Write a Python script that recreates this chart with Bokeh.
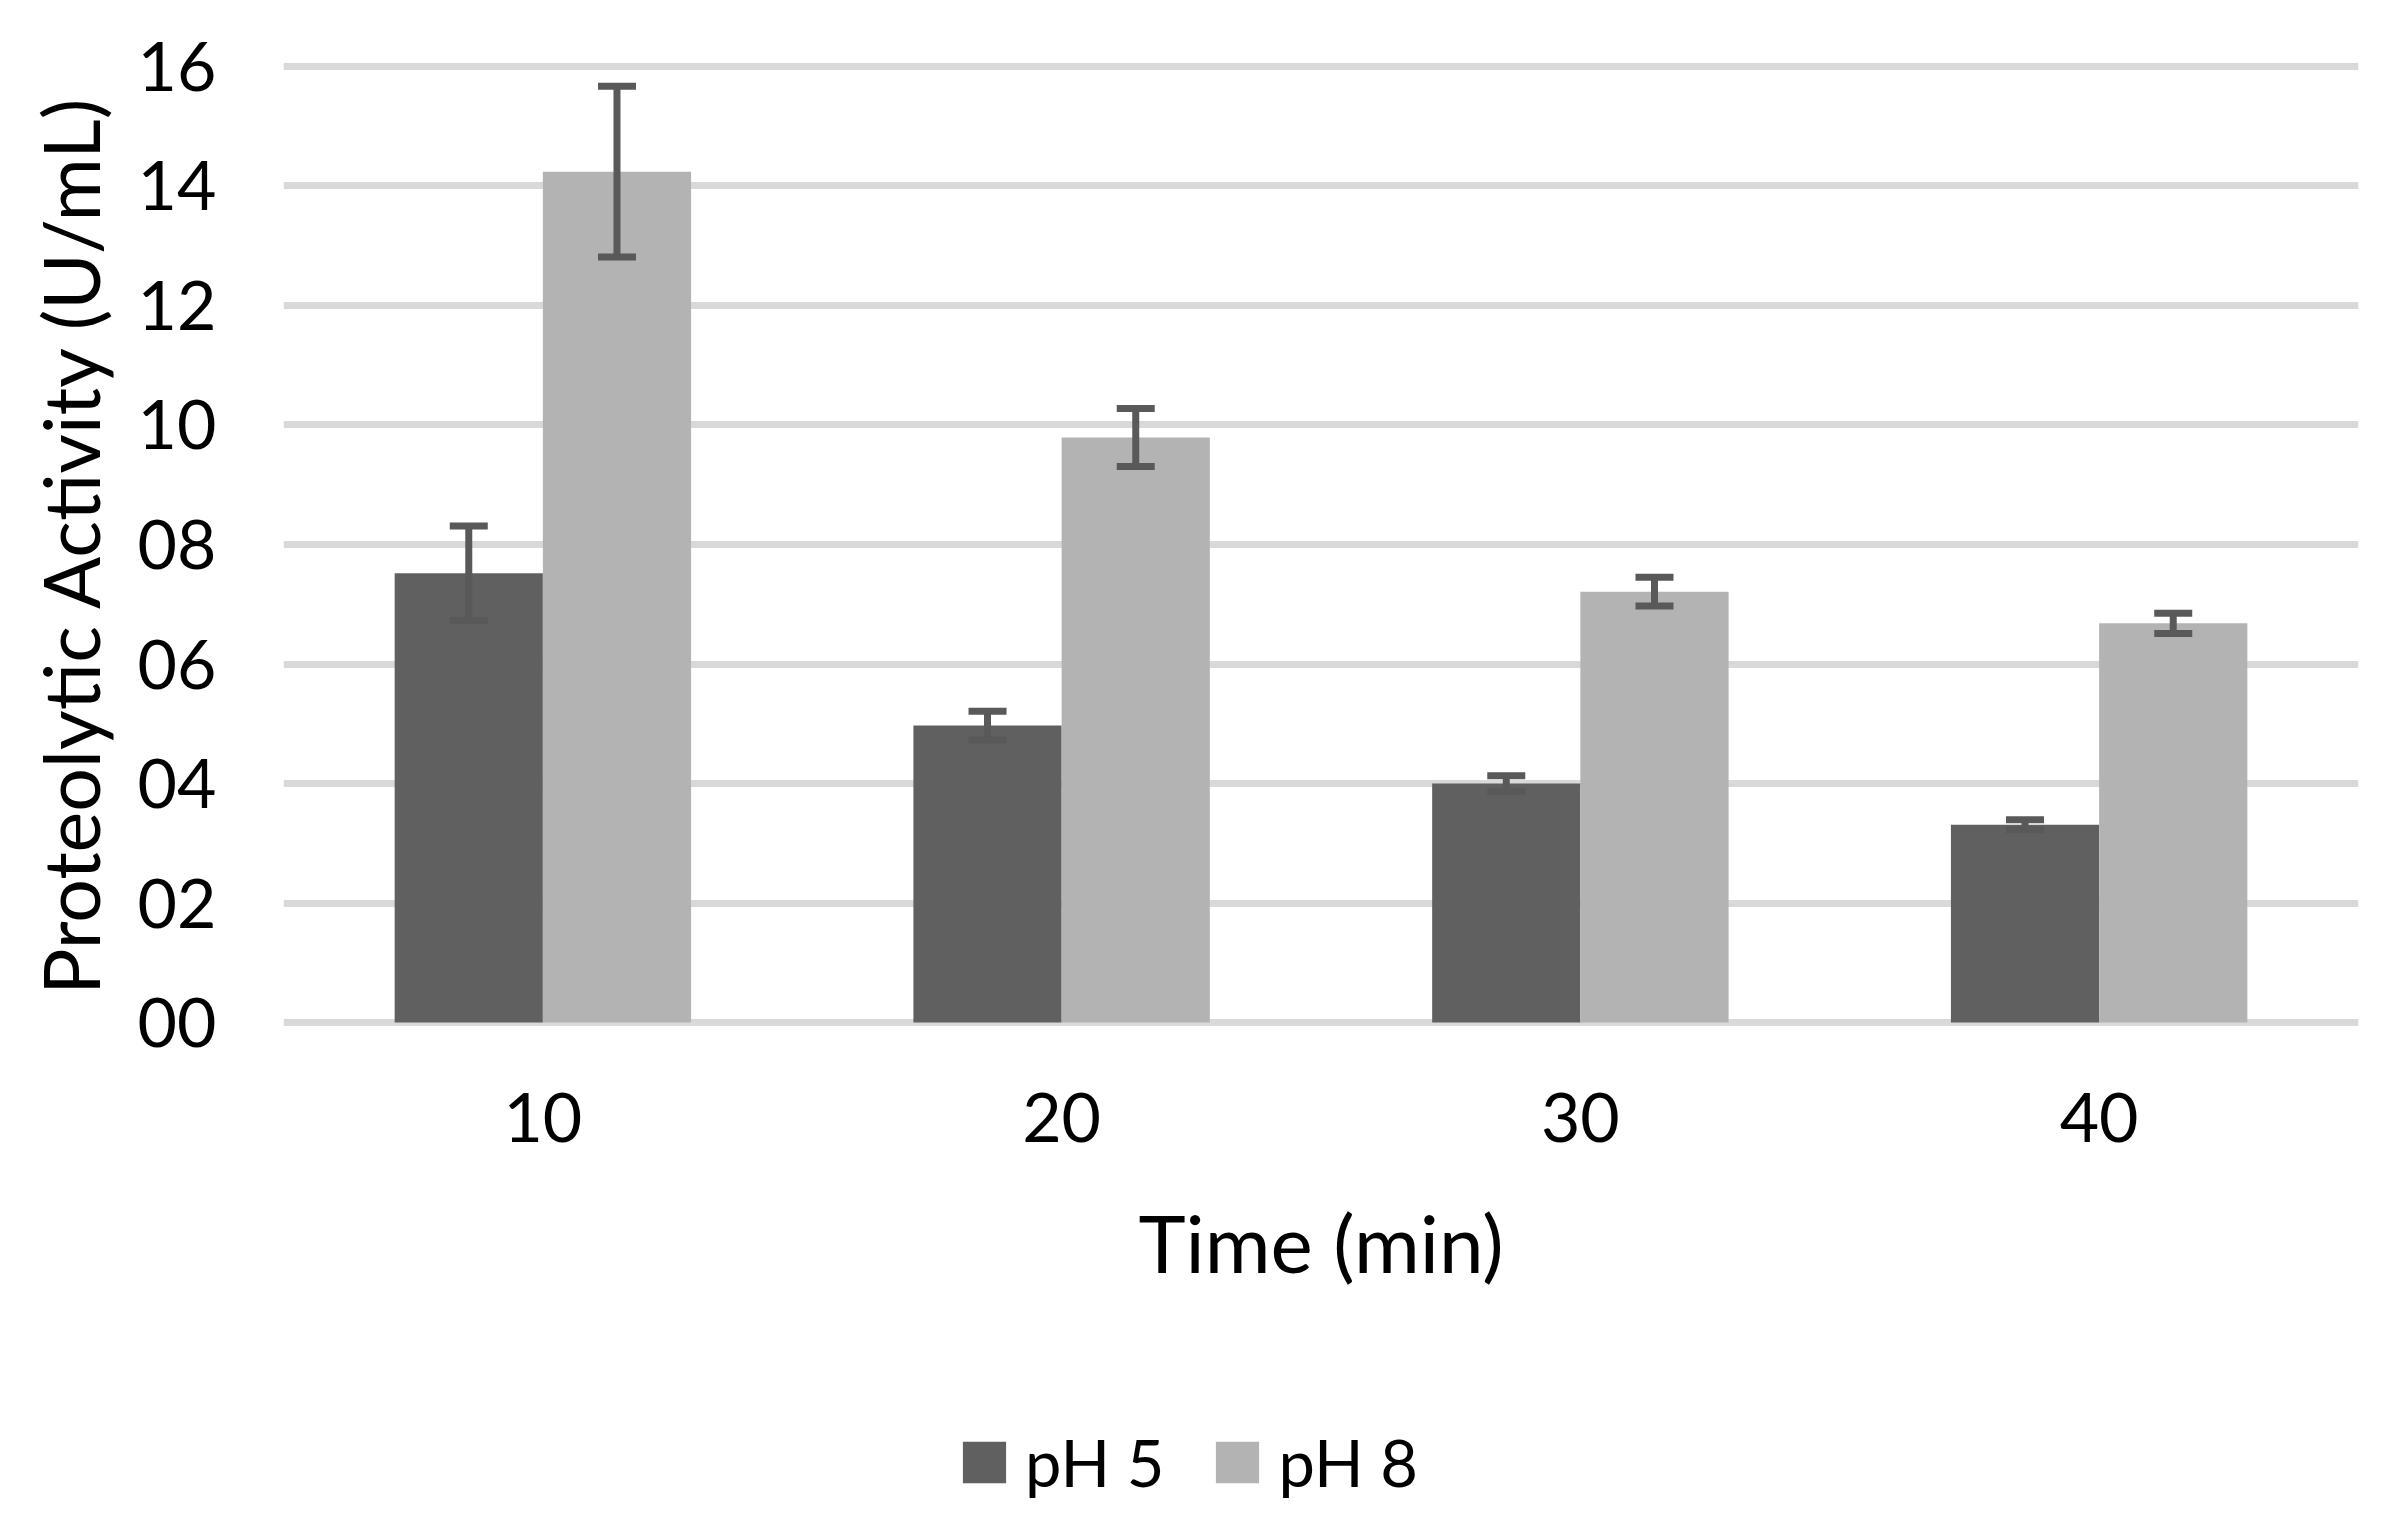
from bokeh.plotting import figure
from bokeh.layouts import column
from bokeh.models import (ColumnDataSource, FactorRange, Range1d, FixedTicker,
                          Whisker, TeeHead, Legend, LegendItem)
from bokeh.transform import dodge
from bokeh.embed import file_html
from bokeh.resources import INLINE

times = ["10", "20", "30", "40"]
tick_values = [0, 2, 4, 6, 8, 10, 12, 14, 16]
tick_labels = ["00", "02", "04", "06", "08", "10", "12", "14", "16"]
series_names = ["pH 5", "pH 8"]
ph5 = [7.52, 4.97, 4.00, 3.31]
ph5_err = [0.79, 0.24, 0.13, 0.085]
ph8 = [14.24, 9.79, 7.21, 6.68]
ph8_err = [1.43, 0.485, 0.24, 0.17]

FONT = "Lato"
C5 = "#606060"
C8 = "#b3b3b3"
CERR = "#595959"

src = ColumnDataSource(dict(
    time=times,
    ph5=ph5, ph8=ph8,
    ph5_up=[v + e for v, e in zip(ph5, ph5_err)],
    ph5_lo=[v - e for v, e in zip(ph5, ph5_err)],
    ph8_up=[v + e for v, e in zip(ph8, ph8_err)],
    ph8_lo=[v - e for v, e in zip(ph8, ph8_err)],
))

W = 2380
H_MAIN = 1400
H_LEG = 113

p = figure(width=W, height=H_MAIN, output_backend="svg", toolbar_location=None,
           x_range=FactorRange(*times), y_range=Range1d(-0.1, 16.1),
           min_border_left=283, min_border_right=22, min_border_top=60,
           min_border_bottom=372)
p.outline_line_color = None
p.background_fill_color = "white"
p.border_fill_color = "white"

bw = 1 / 3.5
off = bw / 2
p.vbar(x=dodge("time", -off, range=p.x_range), top="ph5", bottom=0, width=bw,
       source=src, fill_color=C5, line_color=None)
p.vbar(x=dodge("time", off, range=p.x_range), top="ph8", bottom=0, width=bw,
       source=src, fill_color=C8, line_color=None)

for key, o in (("ph5", -off), ("ph8", off)):
    w = Whisker(base=dodge("time", o, range=p.x_range), upper=key + "_up", lower=key + "_lo",
                source=src, line_color=CERR, line_width=7, level="overlay",
                upper_head=TeeHead(size=38, line_color=CERR, line_width=7),
                lower_head=TeeHead(size=38, line_color=CERR, line_width=7))
    p.add_layout(w)

p.xgrid.grid_line_color = None
p.ygrid.grid_line_color = "#d9d9d9"
p.ygrid.grid_line_width = 7
p.ygrid.level = "underlay"

p.yaxis.ticker = FixedTicker(ticks=tick_values)
p.yaxis.major_label_overrides = {v: l for v, l in zip(tick_values, tick_labels)}
p.yaxis.axis_label = "Proteolytic Activity (U/mL)"
p.xaxis.axis_label = "Time (min)"
for ax in (p.xaxis, p.yaxis):
    ax.axis_line_color = None
    ax.major_tick_line_color = None
    ax.minor_tick_line_color = None
    ax.major_label_text_font = FONT
    ax.major_label_text_font_size = "68px"
    ax.major_label_text_color = "black"
    ax.axis_label_text_font = FONT
    ax.axis_label_text_font_style = "normal"
    ax.axis_label_text_color = "black"
p.yaxis.axis_label_text_font_size = "77px"
p.xaxis.axis_label_text_font_size = "80px"
p.yaxis.major_label_standoff = 61
p.yaxis.axis_label_standoff = 19
p.xaxis.major_label_standoff = 58
p.xaxis.axis_label_standoff = 49

# legend strip below the chart (its own figure so the legend is not clipped)
pl = figure(width=W, height=H_LEG, output_backend="svg", toolbar_location=None,
            x_range=FactorRange(*times), y_range=Range1d(1000, 1001),
            min_border=0)
pl.axis.visible = False
pl.grid.visible = False
pl.outline_line_color = None
pl.background_fill_color = "white"
pl.border_fill_color = "white"
l5 = pl.vbar(x="time", top="ph5", bottom=0, width=bw, source=src,
             fill_color=C5, line_color=None)
l8 = pl.vbar(x="time", top="ph8", bottom=0, width=bw, source=src,
             fill_color=C8, line_color=None)
legend = Legend(items=[LegendItem(label=series_names[0], renderers=[l5]),
                       LegendItem(label=series_names[1], renderers=[l8])],
                orientation="horizontal", location=(674, 12),
                glyph_width=54, glyph_height=52, label_standoff=14, spacing=46,
                padding=0, margin=0, border_line_color=None, background_fill_alpha=0,
                label_text_font=FONT, label_text_font_size="65px", label_text_color="black")
pl.add_layout(legend, "center")

layout = column(p, pl, spacing=0)
open("out.html", "w").write(file_html(layout, INLINE))
